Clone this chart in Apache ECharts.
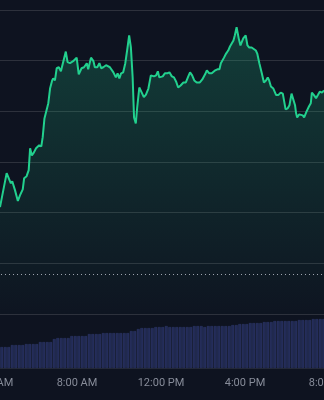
<!DOCTYPE html>
<html>
<head>
<meta charset="utf-8">
<script src="https://cdn.jsdelivr.net/npm/echarts@6/dist/echarts.min.js"></script>
<style>
  html, body { margin: 0; padding: 0; width: 324px; height: 400px; overflow: hidden; background: #0e1320; }
  #c { position: absolute; left: -7px; top: 0; width: 336px; height: 400px; }
</style>
</head>
<body>
<div id="c"></div>
<script>
// Time in minutes since midnight
const priceTimes = [260,279,284,291,295,303,311,317,325,329,336,342,346,351,357,363,368,372,378,382,387,392,398,403,409,412,417,422,428,434,439,448,453,460,465,469,479,485,489,493,500,508,512,520,527,531,538,544,549,555,563,574,584,591,596,601,606,612,618,624,629,634,639,643,648,652,658,665,671,677,684,691,700,706,711,715,725,731,738,744,751,757,763,769,776,784,791,798,803,809,815,822,831,838,846,851,858,865,869,875,881,887,891,894,900,906,912,917,922,927,931,936,942,947,955,962,967,972,979,984,991,995,1001,1008,1014,1020,1025,1029,1034,1041,1049,1055,1062,1068,1072,1076,1082,1087,1093,1098,1103,1106,1109,1115,1120,1125,1129,1136,1143,1148,1151,1157,1163,1169,1174,1180,1186];
const priceValues = [96.11,96.78,96.78,96.58,96.62,96.44,96.23,96.34,96.46,96.68,96.72,96.84,97.27,97.13,97.19,97.27,97.27,97.33,97.31,97.49,97.86,97.86,98.16,98.45,98.61,98.65,98.61,98.85,98.87,98.79,98.79,99.18,98.97,98.95,98.93,98.99,99.06,98.73,98.75,98.85,98.87,98.95,98.83,99.06,98.99,98.87,98.87,98.95,98.85,98.87,98.91,98.87,98.77,98.67,98.75,98.65,98.75,98.77,98.95,99.24,99.50,99.26,98.67,97.88,97.76,98.08,98.47,98.37,98.28,98.33,98.45,98.71,98.69,98.71,98.79,98.67,98.69,98.75,98.75,98.77,98.69,98.67,98.59,98.47,98.51,98.57,98.57,98.69,98.77,98.71,98.61,98.57,98.57,98.63,98.73,98.81,98.75,98.75,98.77,98.81,98.83,98.83,98.95,98.93,99.06,99.14,99.20,99.28,99.34,99.40,99.50,99.66,99.44,99.30,99.44,99.50,99.30,99.26,99.26,99.24,99.20,99.14,98.95,98.75,98.57,98.61,98.67,98.61,98.49,98.45,98.32,98.32,98.37,98.35,98.32,98.04,98.06,98.12,98.35,98.32,98.12,97.96,97.88,97.94,97.96,97.92,97.88,98.00,98.10,98.16,98.37,98.32,98.26,98.33,98.39,98.37,98.41];
const referencePrice = 94.79;

// Volume bars: 10-minute buckets; the session window starts at 4:00 AM, first traded bucket 4:20 AM
const bucketStart = 240;
const bucketStep = 10;
const bucketCount = 96;
const firstVolumeBucket = 260;
const volumeValues = [21,21,21,23,23,23,23,24,24,24,24,26,26,26,26,29,30,30,30,30,32,32,32,32,32,34,34,34,34,35,35,35,35,35,35,35,35,37,37,39,40,40,40,40,41,41,41,42,41,41,41,41,41,41,41,42,42,42,41,42,42,42,42,42,42,42,43,43,44,44,44,45,45,45,45,46,46,46,47,47,47,47,47,47,47,48,48,48,48,49,49,49,49,49];

const tickValues = [240, 480, 720, 960, 1200];
const tickLabels = ['4:00 AM', '8:00 AM', '12:00 PM', '4:00 PM', '8:00 PM'];

const priceData = priceTimes.map((t, i) => [t, priceValues[i]]);
const buckets = [];
for (let i = 0; i < bucketCount; i++) buckets.push(bucketStart + i * bucketStep);
const offsetIdx = (firstVolumeBucket - bucketStart) / bucketStep;
const volumeData = buckets.map((b, i) => {
  const j = i - offsetIdx;
  return (j >= 0 && j < volumeValues.length) ? volumeValues[j] : null;
});

const chart = echarts.init(document.getElementById('c'), null, { renderer: 'canvas' });
chart.setOption({
  backgroundColor: '#0e1320',
  animation: false,
  grid: [
    { left: 0, right: 0, top: 10, height: 304, containLabel: false, outerBoundsMode: 'none' },
    { left: 0, right: 0, top: 300, bottom: 32, containLabel: false, outerBoundsMode: 'none' }
  ],
  xAxis: [
    {
      gridIndex: 0, type: 'value', min: 240, max: 1200, interval: 240,
      offset: 54,
      axisLine: { show: true, lineStyle: { color: '#232836', width: 1 } },
      axisTick: { show: false },
      splitLine: { show: false },
      axisLabel: {
        color: '#878c99', fontSize: 11, margin: 10, fontFamily: 'Roboto, "Noto Sans", sans-serif',
        showMinLabel: true, showMaxLabel: true, hideOverlap: false,
        formatter: v => { const i = tickValues.indexOf(v); return i >= 0 ? tickLabels[i] : ''; }
      }
    },
    {
      gridIndex: 1, type: 'category', data: buckets, boundaryGap: true, show: false
    }
  ],
  yAxis: [
    {
      gridIndex: 0, type: 'value', min: 94, max: 100, interval: 1,
      axisLine: { show: false }, axisTick: { show: false }, axisLabel: { show: false },
      splitLine: { show: true, lineStyle: { color: 'rgba(255,255,255,0.13)', width: 1 } }
    },
    {
      gridIndex: 1, type: 'value', min: 0, max: 68,
      axisLine: { show: false }, axisTick: { show: false }, axisLabel: { show: false },
      splitLine: { show: false }
    }
  ],
  series: [
    {
      type: 'line', xAxisIndex: 0, yAxisIndex: 0,
      data: priceData,
      showSymbol: false, symbol: 'none',
      lineStyle: { color: '#22d08e', width: 2 },
      areaStyle: {
        color: new echarts.graphic.LinearGradient(0, 0, 0, 1, [
          { offset: 0, color: 'rgba(34,208,142,0.32)' },
          { offset: 1, color: 'rgba(34,208,142,0.01)' }
        ])
      },
      markLine: {
        silent: true, symbol: ['none', 'none'], label: { show: false },
        lineStyle: { color: 'rgba(205,210,220,0.75)', type: [1, 3], width: 1 },
        data: [{ yAxis: referencePrice }]
      }
    },
    {
      type: 'bar', xAxisIndex: 1, yAxisIndex: 1,
      data: volumeData,
      barWidth: 3,
      itemStyle: { color: 'rgba(40,50,100,0.8)', borderColor: 'rgba(58,70,130,0.55)', borderWidth: 0.6 }
    }
  ]
});
</script>
</body>
</html>
